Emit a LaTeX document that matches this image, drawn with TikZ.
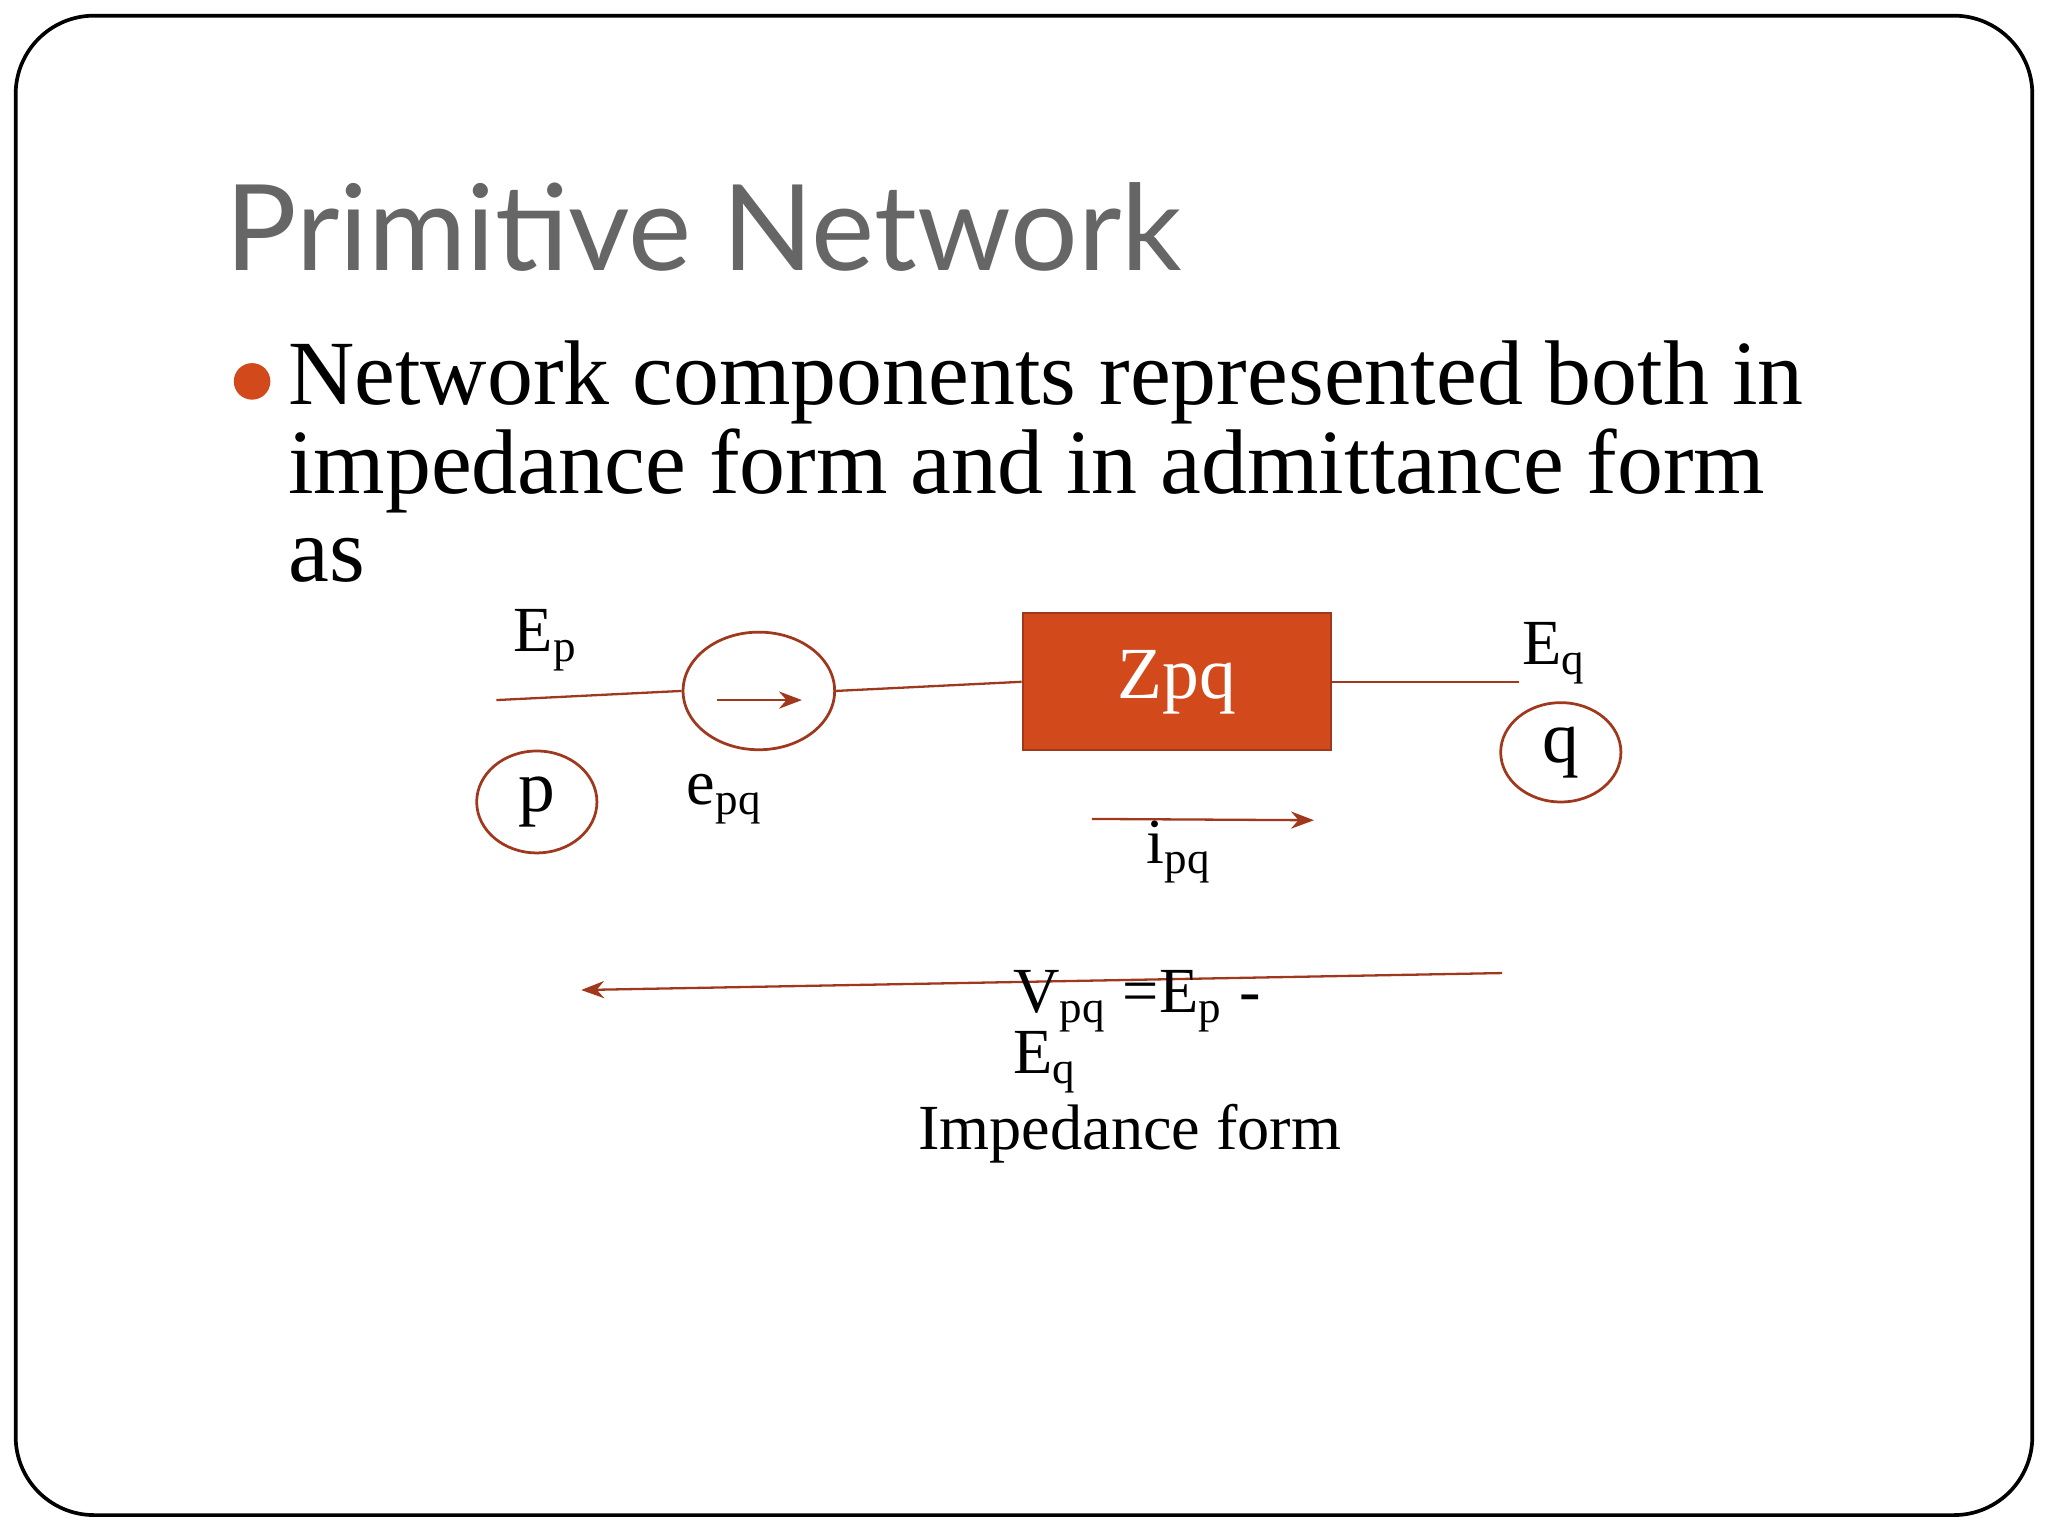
\documentclass[tikz,border=0pt]{standalone}
\usepackage{fontspec}
\setmainfont{Liberation Serif}
\newfontfamily\titlefont{Lato}
\usetikzlibrary{arrows.meta,shapes.geometric}
\definecolor{dred}{HTML}{A0381E}
\definecolor{orng}{HTML}{D24A1B}
\tikzset{wire/.style={draw=dred,line width=0.5pt},
 arr/.style={wire,-{Stealth[length=5pt]}},
 circ/.style={draw=dred,line width=0.6pt,ellipse},
 lbl/.style={font=\fontsize{14}{16}\selectfont,inner sep=0},
 bodyl/.style={anchor=base west,inner sep=0,font=\fontsize{20}{22}\selectfont}}
\begin{document}
\begin{tikzpicture}[x=0.01cm,y=-0.01cm]
\useasboundingbox (0,0) rectangle (1568,1176);
\draw[line width=0.8pt,rounded corners=0.6cm] (12,12) rectangle (1556,1160);
\node[anchor=base west,inner sep=0,text=black!60,font=\titlefont\fontsize{26}{30}\selectfont] (title) at (172,207) {Primitive Network};
\fill[orng] (193,292) circle (14);
\node[bodyl] (b1) at (220,310) {Network components represented both in};
\node[bodyl] (b2) at (220,378) {impedance form and in admittance form};
\node[bodyl] (b3) at (220,445) {as};
\coordinate (a0) at (380,536);
\node[circ,minimum width=1.16cm,minimum height=0.9cm,inner sep=0] (e) at (581,529) {};
\node[draw=dred,fill=orng,minimum width=2.36cm,minimum height=1.05cm,inner sep=0,text=white,font=\fontsize{16}{18}\selectfont] (z) at (901,522) {Zpq};
\coordinate (a1) at (1163,522);
\draw[wire] (a0) -- (e.west);
\draw[wire] (e.east) -- (z.west);
\draw[wire] (z.east) -- (a1);
\coordinate (s1) at (549,536); \coordinate (t1) at (614,536);
\draw[arr] (s1) -- (t1);
\node[lbl] (ep) at (418,490) {E\textsubscript{p}};
\node[lbl] (eq) at (1190,500) {E\textsubscript{q}};
\node[circ,minimum width=0.92cm,minimum height=0.78cm,inner sep=0,font=\fontsize{16}{18}\selectfont] (p) at (411,614) {p};
\node[circ,minimum width=0.92cm,minimum height=0.76cm,inner sep=0,font=\fontsize{16}{18}\selectfont] (q) at (1195,576) {q};
\node[lbl] (epq) at (555,612) {e\textsubscript{pq}};
\coordinate (s2) at (836,627); \coordinate (t2) at (1006,628);
\draw[arr] (s2) -- (t2);
\node[lbl] (ipq) at (903,652) {i\textsubscript{pq}};
\coordinate (s3) at (1150,745); \coordinate (t3) at (445,758);
\draw[arr] (s3) -- (t3);
\node[lbl,anchor=base west] (v1) at (775,775) {V\textsubscript{pq} =E\textsubscript{p} -};
\node[lbl,anchor=base west] (v2) at (775,822) {E\textsubscript{q}};
\node[lbl,anchor=base] (imp) at (865,880) {Impedance form};
\end{tikzpicture}
\end{document}
